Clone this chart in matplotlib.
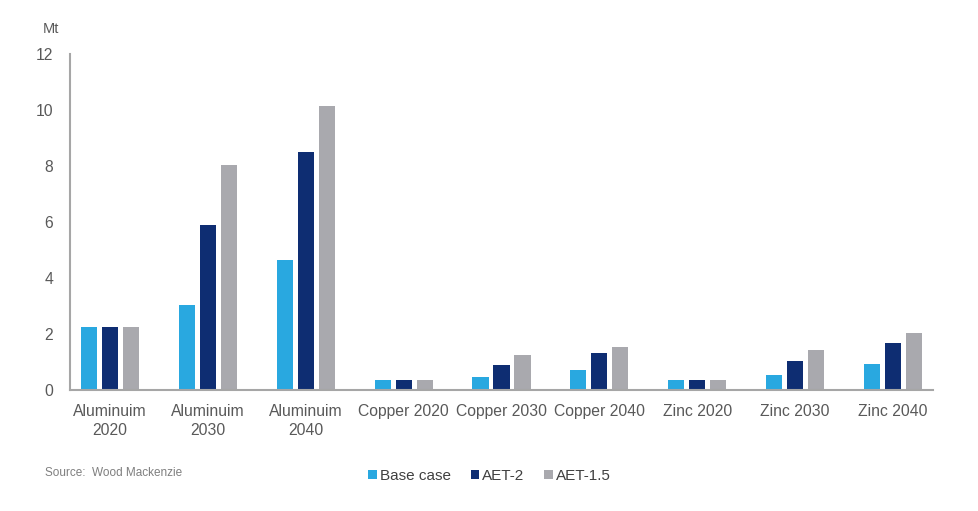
import numpy as np
import matplotlib.pyplot as plt

categories = ["Aluminuim\n2020", "Aluminuim\n2030", "Aluminuim\n2040",
              "Copper 2020", "Copper 2030", "Copper 2040",
              "Zinc 2020", "Zinc 2030", "Zinc 2040"]
base_case = [2.25, 3.04, 4.64, 0.36, 0.46, 0.70, 0.36, 0.53, 0.93]
aet_2 = [2.25, 5.90, 8.50, 0.36, 0.90, 1.32, 0.36, 1.04, 1.68]
aet_15 = [2.25, 8.04, 10.14, 0.36, 1.25, 1.54, 0.36, 1.43, 2.04]

series = [("Base case", base_case, "#29A8E0"),
          ("AET-2", aet_2, "#0E2D72"),
          ("AET-1.5", aet_15, "#A9A9AE")]

plt.rcParams['font.family'] = ['Liberation Sans', 'DejaVu Sans']

fig = plt.figure(figsize=(9.79, 5.11), dpi=100)
ax = fig.add_axes([0.0715, 0.2368, 0.8815, 0.6575])

x = np.arange(len(categories))
w = 0.165
off = 0.215
for i, (name, vals, col) in enumerate(series):
    ax.bar(x + (i - 1) * off, vals, width=w, color=col, label=name)

ax.set_xlim(-0.41, len(categories) - 1 + 0.41)
ax.set_ylim(0, 12)
ax.set_yticks(range(0, 13, 2))
ax.set_xticks(x)
ax.set_xticklabels(categories, linespacing=1.35)
ax.tick_params(axis='both', length=0, labelsize=11.3, labelcolor="#595959")
ax.tick_params(axis='y', pad=12)
ax.tick_params(axis='x', pad=10)

for s in ["top", "right"]:
    ax.spines[s].set_visible(False)
for s in ["left", "bottom"]:
    ax.spines[s].set_color("#A6A6A6")
    ax.spines[s].set_linewidth(1.5)

fig.text(0.044, 0.935, "Mt", fontsize=10.5, color="#595959")
fig.text(0.046, 0.068, "Source:  Wood Mackenzie", fontsize=8.5, color="#7F7F7F")

fig.legend(loc="center", bbox_to_anchor=(0.5, 0.068), ncol=3, frameon=False,
           fontsize=11, handlelength=0.55, handleheight=0.55, handletextpad=0.2,
           columnspacing=1.3, labelcolor="#404040")

fig.savefig("out.png", dpi=100)
